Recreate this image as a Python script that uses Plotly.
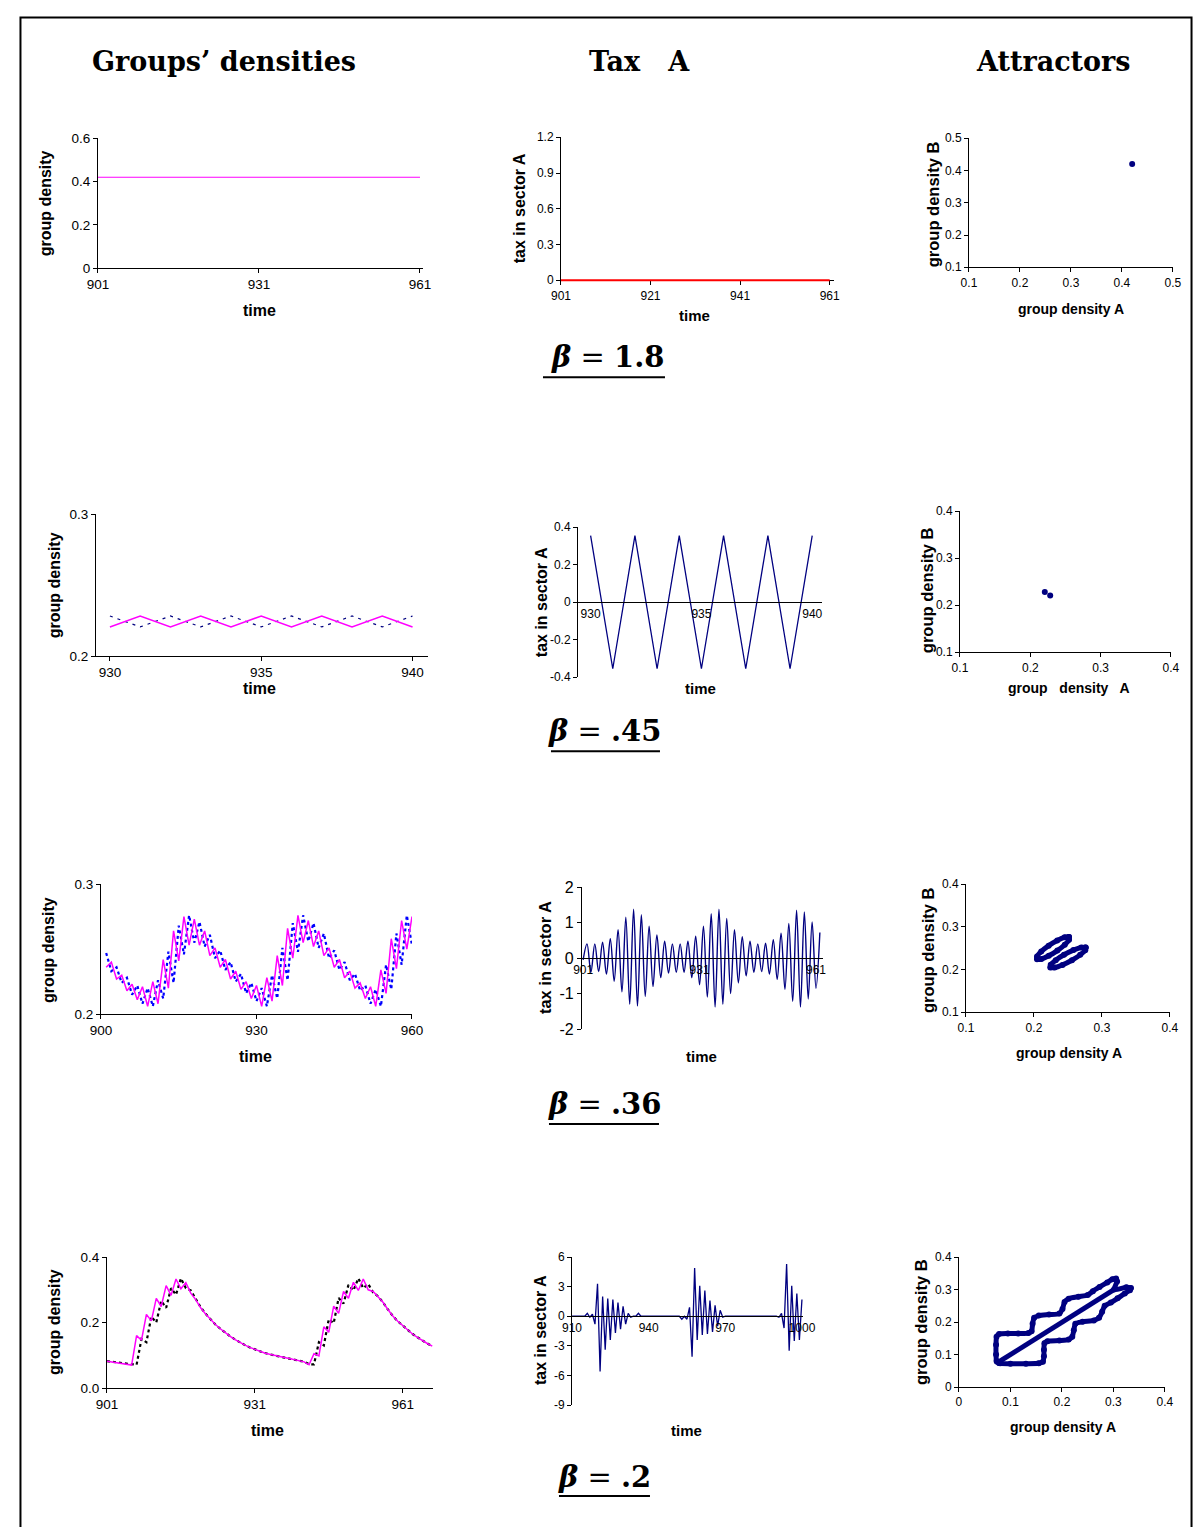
import plotly.graph_objects as go

# ---------------- page geometry (reference pixels -> paper coords) ----------------
# calibrated: the rendered figure appears at offset (19, 15.7) with scale (0.98, 0.989)
W, H = 1198, 1519
OX, OY = 19.0, 15.7
SX, SY = 0.98, 0.989


def fx(X):
    return ((X - OX) / SX) / W


def fy(Y):
    return 1 - ((Y - OY) / SY) / H


NAVY = '#000080'
MAG = '#FF00FF'
BLUE = '#0000FF'
SANS = 'Liberation Sans, Arial, sans-serif'
SERIF = 'DejaVu Serif, Liberation Serif, serif'

# ---------------- data ----------------
# beta = 1.8 (steady state)
time1 = [901, 961]
dens1_A = [0.42, 0.42]
tax1_time = [901, 961]
tax1 = [0.0, 0.0]
attr1_A = [0.42]
attr1_B = [0.42]

# beta = .45 (period-2 cycle)
time2 = [930, 931, 932, 933, 934, 935, 936, 937, 938, 939, 940]
dens2_A = [0.2206, 0.2283, 0.2206, 0.2283, 0.2206, 0.2283, 0.2206, 0.2283, 0.2206, 0.2283, 0.2206]
dens2_B = [0.2283, 0.2206, 0.2283, 0.2206, 0.2283, 0.2206, 0.2283, 0.2206, 0.2283, 0.2206, 0.2283]
tax2 = [0.355, -0.355, 0.355, -0.355, 0.355, -0.355, 0.355, -0.355, 0.355, -0.355, 0.355]
attr2_A = [0.2206, 0.2283]
attr2_B = [0.2283, 0.2206]

# beta = .36 (quasi-periodic)
time3 = list(range(901, 961))
dens3_A = [0.236, 0.240, 0.227, 0.230, 0.218, 0.223, 0.211, 0.221, 0.206, 0.225,
           0.208, 0.242, 0.220, 0.264, 0.241, 0.275, 0.253, 0.273, 0.253, 0.264,
           0.245, 0.251, 0.236, 0.242, 0.227, 0.233, 0.219, 0.225, 0.212, 0.222,
           0.206, 0.228, 0.210, 0.245, 0.222, 0.266, 0.243, 0.276, 0.255, 0.272,
           0.252, 0.264, 0.245, 0.251, 0.236, 0.242, 0.228, 0.233, 0.220, 0.224,
           0.212, 0.221, 0.206, 0.234, 0.216, 0.258, 0.235, 0.272, 0.250, 0.275]
dens3_B = [0.247, 0.233, 0.236, 0.224, 0.228, 0.215, 0.222, 0.208, 0.220, 0.206,
           0.226, 0.212, 0.248, 0.224, 0.268, 0.246, 0.276, 0.255, 0.271, 0.252,
           0.261, 0.243, 0.249, 0.234, 0.240, 0.225, 0.231, 0.216, 0.224, 0.210,
           0.220, 0.206, 0.230, 0.212, 0.251, 0.226, 0.270, 0.248, 0.276, 0.256,
           0.270, 0.251, 0.262, 0.243, 0.249, 0.234, 0.240, 0.226, 0.231, 0.218,
           0.222, 0.208, 0.219, 0.206, 0.238, 0.219, 0.262, 0.238, 0.276, 0.253]
tax3_time = list(range(901, 963))
tax3 = [-0.05, 0.40, -0.40, 0.40, -0.38, 0.45, -0.45, 0.55, -0.65, 0.80,
        -0.95, 1.15, -1.30, 1.38, -1.35, 1.22, -1.08, 0.90, -0.80, 0.65,
        -0.55, 0.48, -0.42, 0.40, -0.40, 0.40, -0.40, 0.48, -0.55, 0.62,
        -0.75, 0.90, -1.10, 1.25, -1.38, 1.38, -1.30, 1.12, -1.00, 0.80,
        -0.70, 0.60, -0.50, 0.48, -0.40, 0.40, -0.38, 0.42, -0.45, 0.52,
        -0.60, 0.70, -0.88, 0.98, -1.22, 1.35, -1.38, 1.30, -1.15, 1.02,
        -0.85, 0.72]
attr3_loop1_A = [0.2515, 0.2452, 0.2342, 0.2216, 0.2107, 0.2045, 0.2045, 0.2109, 0.2218, 0.2344, 0.2453, 0.2516, 0.2515]
attr3_loop1_B = [0.2760, 0.2754, 0.2680, 0.2558, 0.2420, 0.2304, 0.2240, 0.2246, 0.2320, 0.2442, 0.2580, 0.2696, 0.2760]
attr3_loop2_A = [0.2760, 0.2754, 0.2680, 0.2558, 0.2420, 0.2304, 0.2240, 0.2246, 0.2320, 0.2442, 0.2580, 0.2696, 0.2760]
attr3_loop2_B = [0.2515, 0.2452, 0.2342, 0.2216, 0.2107, 0.2045, 0.2045, 0.2109, 0.2218, 0.2344, 0.2453, 0.2516, 0.2515]

# beta = .2 (relaxation cycles)
time4 = list(range(901, 968))
dens4_A = [0.082, 0.080, 0.078, 0.076, 0.074, 0.070, 0.160, 0.146, 0.225, 0.205,
           0.274, 0.249, 0.313, 0.283, 0.333, 0.303, 0.322, 0.290, 0.270, 0.245,
           0.226, 0.209, 0.194, 0.181, 0.169, 0.158, 0.148, 0.139, 0.131, 0.124,
           0.118, 0.112, 0.107, 0.103, 0.099, 0.096, 0.093, 0.090, 0.087, 0.084,
           0.080, 0.071, 0.105, 0.098, 0.187, 0.170, 0.250, 0.228, 0.295, 0.274,
           0.323, 0.298, 0.333, 0.300, 0.295, 0.279, 0.262, 0.240, 0.220, 0.204,
           0.190, 0.177, 0.165, 0.155, 0.145, 0.136, 0.128]
dens4_B = [0.082, 0.080, 0.078, 0.076, 0.074, 0.072, 0.071, 0.150, 0.140, 0.218,
           0.200, 0.266, 0.245, 0.305, 0.285, 0.335, 0.305, 0.298, 0.272, 0.247,
           0.227, 0.210, 0.194, 0.181, 0.169, 0.158, 0.148, 0.139, 0.131, 0.124,
           0.118, 0.112, 0.107, 0.103, 0.099, 0.096, 0.093, 0.090, 0.087, 0.084,
           0.080, 0.073, 0.072, 0.140, 0.130, 0.210, 0.198, 0.275, 0.258, 0.315,
           0.298, 0.335, 0.305, 0.318, 0.292, 0.280, 0.262, 0.240, 0.220, 0.204,
           0.190, 0.177, 0.165, 0.155, 0.145, 0.136, 0.128]
tax4_time = list(range(910, 1001))
tax4 = [0, 0, 0, 0, 0, 0, 0.3, -0.1, 0.2, -0.8,
        3.3, -5.6, 2.0, -3.4, 1.8, -2.4, 1.7, -1.7, 1.4, -1.3,
        1.0, -0.8, 0.3, -0.1, 0, 0, 0.3, 0, 0, 0,
        0, 0, 0, 0, 0, 0, 0, 0, 0, 0,
        0, 0, 0, -0.3, 0.0, -0.3, 0.9, -4.1, 4.9, -2.4,
        3.1, -1.9, 2.6, -1.8, 1.6, -1.6, 1.1, -1.0, 0.6, -0.1,
        0, 0, 0, 0, 0, 0, 0, 0, 0, 0,
        0, 0, 0, 0, 0, 0, 0, 0, 0, 0,
        0, -0.1, 0.3, -1.2, 5.3, -3.5, 3.1, -2.5, 2.3, -2.4,
        1.7]
attr4_outline_A = [0.078, 0.073, 0.072, 0.072, 0.073, 0.078, 0.095, 0.115, 0.135, 0.141,
                   0.143, 0.146, 0.155, 0.175, 0.195, 0.201, 0.205, 0.213, 0.232, 0.250,
                   0.260, 0.273, 0.288, 0.298, 0.305, 0.307, 0.301,
                   0.325, 0.334, 0.332, 0.322, 0.308, 0.295, 0.283, 0.278, 0.272, 0.262,
                   0.240, 0.226, 0.223, 0.220, 0.213, 0.195, 0.172, 0.166, 0.165, 0.165,
                   0.163, 0.155, 0.130, 0.100, 0.080, 0.074, 0.078]
attr4_outline_B = [0.074, 0.080, 0.100, 0.130, 0.155, 0.163, 0.165, 0.165, 0.166, 0.172,
                   0.195, 0.213, 0.220, 0.223, 0.226, 0.240, 0.262, 0.272, 0.278, 0.283,
                   0.295, 0.308, 0.322, 0.332, 0.334, 0.325, 0.300,
                   0.307, 0.305, 0.298, 0.288, 0.273, 0.260, 0.250, 0.232, 0.213, 0.205,
                   0.201, 0.195, 0.175, 0.155, 0.146, 0.143, 0.141, 0.135, 0.115, 0.095,
                   0.078, 0.073, 0.072, 0.072, 0.073, 0.078, 0.074]
attr4_diag_A = [0.078, 0.301]
attr4_diag_B = [0.078, 0.300]

# ---------------- figure ----------------
fig = go.Figure()
lay = {}
annots = []
shapes = []


def axes(i, box, xr, yr, xtv, xtt, ytv, ytt, xpos=None, xfs=12, yfs=12,
         xticklen=4, xlayer='above traces'):
    x0, x1, yt, yb = box
    sx = '' if i == 1 else str(i)
    xa = dict(domain=[fx(x0), fx(x1)], range=xr, showline=True, linecolor='black',
              linewidth=1, ticks='outside' if xticklen else '', ticklen=xticklen,
              tickcolor='black', tickvals=xtv, ticktext=xtt, showgrid=False,
              zeroline=False, tickfont=dict(family=SANS, size=xfs, color='black'),
              layer=xlayer, fixedrange=True)
    if xpos is None:
        xa['anchor'] = 'y' + sx
    else:
        xa['anchor'] = 'free'
        xa['position'] = fy(xpos)
    ya = dict(domain=[fy(yb), fy(yt)], range=yr, anchor='x' + sx, showline=True,
              linecolor='black', linewidth=1, ticks='outside', ticklen=4,
              tickcolor='black', tickvals=ytv, ticktext=ytt, showgrid=False,
              zeroline=False, tickfont=dict(family=SANS, size=yfs, color='black'),
              fixedrange=True)
    lay['xaxis' + sx] = xa
    lay['yaxis' + sx] = ya
    return 'x' + sx, 'y' + sx


def label(text, X, Y, size=15, angle=0, family=SANS, bold=True):
    annots.append(dict(text=('<b>%s</b>' % text) if bold else text, x=fx(X), y=fy(Y),
                       xref='paper', yref='paper', showarrow=False, textangle=angle,
                       xanchor='center', yanchor='middle',
                       font=dict(family=family, size=size, color='black')))


def line(x, y, xa, ya, color, width=1.5, dash='solid', shape='linear'):
    fig.add_trace(go.Scatter(x=x, y=y, xaxis=xa, yaxis=ya, mode='lines',
                             line=dict(color=color, width=width, dash=dash, shape=shape),
                             hoverinfo='skip'))


def dots(x, y, xa, ya, size=6):
    fig.add_trace(go.Scatter(x=x, y=y, xaxis=xa, yaxis=ya, mode='markers',
                             marker=dict(color=NAVY, size=size), hoverinfo='skip'))


def loop(x, y, xa, ya, width=5):
    fig.add_trace(go.Scatter(x=x, y=y, xaxis=xa, yaxis=ya, mode='lines+markers',
                             line=dict(color=NAVY, width=width, shape='spline', smoothing=0.6),
                             marker=dict(color=NAVY, size=width + 1), hoverinfo='skip'))


# ---- row 1 : beta = 1.8 ----
xa, ya = axes(1, (98, 423, 138, 268), [901, 961.56], [0, 0.6],
              [901, 931, 961], ['901', '931', '961'],
              [0, 0.2, 0.4, 0.6], ['0', '0.2', '0.4', '0.6'], xfs=13.5, yfs=13.5)
line(time1, dens1_A, xa, ya, MAG, 1.2)
label('group density', 45, 203, 16, -90)
label('time', 260, 310, 16)

xa, ya = axes(2, (561, 834, 137, 282.4), [901, 961.96], [-0.02, 1.2],
              [901, 921, 941, 961], ['901', '921', '941', '961'],
              [0, 0.3, 0.6, 0.9, 1.2], ['0', '0.3', '0.6', '0.9', '1.2'],
              xpos=280, xlayer='below traces')
line(tax1_time, tax1, xa, ya, '#FF0000', 2)
label('tax in sector A', 519, 208, 16, -90)
label('time', 695, 315, 15)

xa, ya = axes(3, (969, 1173, 138, 267), [0.1, 0.5], [0.1, 0.5],
              [0.1, 0.2, 0.3, 0.4, 0.5], ['0.1', '0.2', '0.3', '0.4', '0.5'],
              [0.1, 0.2, 0.3, 0.4, 0.5], ['0.1', '0.2', '0.3', '0.4', '0.5'])
dots(attr1_A, attr1_B, xa, ya)
label('group density B', 933, 204, 16.5, -90)
label('group density A', 1071, 309, 14)

# ---- row 2 : beta = .45 ----
xa, ya = axes(4, (96, 428, 514, 656), [929.54, 940.51], [0.2, 0.3],
              [930, 935, 940], ['930', '935', '940'], [0.2, 0.3], ['0.2', '0.3'],
              xfs=13.5, yfs=13.5)
line(time2, dens2_B, xa, ya, NAVY, 1.2, dash='3px,5px')
line(time2, dens2_A, xa, ya, MAG, 1.5)
label('group density', 54, 585, 16, -90)
label('time', 260, 688, 16)

xa, ya = axes(5, (578, 822, 527, 677), [929.43, 940.44], [-0.4, 0.4],
              [930, 935, 940], ['930', '935', '940'],
              [-0.4, -0.2, 0, 0.2, 0.4], ['-0.4', '-0.2', '0', '0.2', '0.4'],
              xpos=602, xticklen=0)
line(time2, tax2, xa, ya, NAVY, 1.3)
label('tax in sector A', 541, 602, 16, -90)
label('time', 701, 688, 15)

xa, ya = axes(6, (960, 1171, 511, 652), [0.1, 0.4], [0.1, 0.4],
              [0.1, 0.2, 0.3, 0.4], ['0.1', '0.2', '0.3', '0.4'],
              [0.1, 0.2, 0.3, 0.4], ['0.1', '0.2', '0.3', '0.4'])
dots(attr2_A, attr2_B, xa, ya)
label('group density B', 927, 590, 16.5, -90)
label('group\u00a0\u00a0 density\u00a0\u00a0 A', 1069, 688, 14)

# ---- row 3 : beta = .36 ----
xa, ya = axes(7, (101, 412, 884, 1014), [900, 960], [0.2, 0.3],
              [900, 930, 960], ['900', '930', '960'], [0.2, 0.3], ['0.2', '0.3'],
              xfs=13.5, yfs=13.5)
line(time3, dens3_B, xa, ya, BLUE, 2.2, dash='dot')
line(time3, dens3_A, xa, ya, MAG, 1.5)
label('group density', 48, 950, 16, -90)
label('time', 256, 1056, 16)

xa, ya = axes(8, (582, 823, 887, 1029), [900.7, 962.8], [-2, 2],
              [901, 931, 961], ['901', '931', '961'],
              [-2, -1, 0, 1, 2], ['-2', '-1', '0', '1', '2'],
              xpos=958, xticklen=0, yfs=16)
line(tax3_time, tax3, xa, ya, NAVY, 1.4, shape='spline')
label('tax in sector A', 545, 957, 16.5, -90)
label('time', 702, 1056, 15)

xa, ya = axes(9, (966, 1170, 884, 1012), [0.1, 0.4], [0.1, 0.4],
              [0.1, 0.2, 0.3, 0.4], ['0.1', '0.2', '0.3', '0.4'],
              [0.1, 0.2, 0.3, 0.4], ['0.1', '0.2', '0.3', '0.4'])
loop(attr3_loop1_A, attr3_loop1_B, xa, ya)
loop(attr3_loop2_A, attr3_loop2_B, xa, ya)
label('group density B', 928, 950, 16.5, -90)
label('group density A', 1069, 1053, 14)

# ---- row 4 : beta = .2 ----
xa, ya = axes(10, (107, 433, 1257, 1388), [901, 967.15], [0, 0.4],
              [901, 931, 961], ['901', '931', '961'],
              [0, 0.2, 0.4], ['0.0', '0.2', '0.4'], xfs=13.5, yfs=13.5)
line(time4, dens4_B, xa, ya, 'black', 2.2, dash='dot')
line(time4, dens4_A, xa, ya, MAG, 1.5)
label('group density', 54, 1322, 16, -90)
label('time', 268, 1430, 16)

xa, ya = axes(11, (572, 803, 1257, 1405), [910, 1000.4], [-9, 6],
              [910, 940, 970, 1000], ['910', '940', '970', '1000'],
              [-9, -6, -3, 0, 3, 6], ['-9', '-6', '-3', '0', '3', '6'],
              xpos=1316.2, xticklen=0)
line(tax4_time, tax4, xa, ya, NAVY, 1.3)
label('tax in sector A', 540, 1330, 16, -90)
label('time', 687, 1430, 15)

xa, ya = axes(12, (959, 1165, 1257, 1387), [0, 0.4], [0, 0.4],
              [0, 0.1, 0.2, 0.3, 0.4], ['0', '0.1', '0.2', '0.3', '0.4'],
              [0, 0.1, 0.2, 0.3, 0.4], ['0', '0.1', '0.2', '0.3', '0.4'])
loop(attr4_outline_A, attr4_outline_B, xa, ya, width=5)
fig.add_trace(go.Scatter(x=attr4_diag_A, y=attr4_diag_B, xaxis=xa, yaxis=ya, mode='lines',
                         line=dict(color=NAVY, width=5), hoverinfo='skip'))
label('group density B', 921, 1322, 16.5, -90)
label('group density A', 1063, 1427, 14)

# ---- column titles ----
label('Groups\u2019 densities', 224, 61, 27, family=SERIF)
label('Tax\u00a0\u00a0 A', 640, 61, 27, family=SERIF)
label('Attractors', 1053, 61, 27, family=SERIF)

# ---- beta labels with underline ----
betas = [('1.8', 608, 357, 543, 665, 377),
         ('.45', 605, 731, 551, 660, 751),
         ('.36', 605, 1104, 549, 659, 1124),
         ('.2', 605, 1477, 559, 650, 1496)]
for val, cx, cy, u0, u1, uy in betas:
    annots.append(dict(text='<b><i>\u03b2</i></b> = <b>%s</b>' % val, x=fx(cx), y=fy(cy),
                       xref='paper', yref='paper', showarrow=False,
                       xanchor='center', yanchor='middle',
                       font=dict(family=SERIF, size=29, color='black')))
    shapes.append(dict(type='line', xref='paper', yref='paper', x0=fx(u0), x1=fx(u1),
                       y0=fy(uy), y1=fy(uy), line=dict(color='black', width=2)))

# ---- outer frame ----
shapes.append(dict(type='rect', xref='paper', yref='paper', x0=1.5 / W, x1=1 - 1.5 / W,
                   y0=-0.05, y1=1 - 1.5 / H, line=dict(color='black', width=2),
                   fillcolor='rgba(0,0,0,0)', layer='above'))

fig.update_layout(width=W, height=H, margin=dict(l=0, r=0, t=0, b=0),
                  paper_bgcolor='white', plot_bgcolor='white', showlegend=False,
                  annotations=annots, shapes=shapes, **lay)

fig.write_html("out.html")
